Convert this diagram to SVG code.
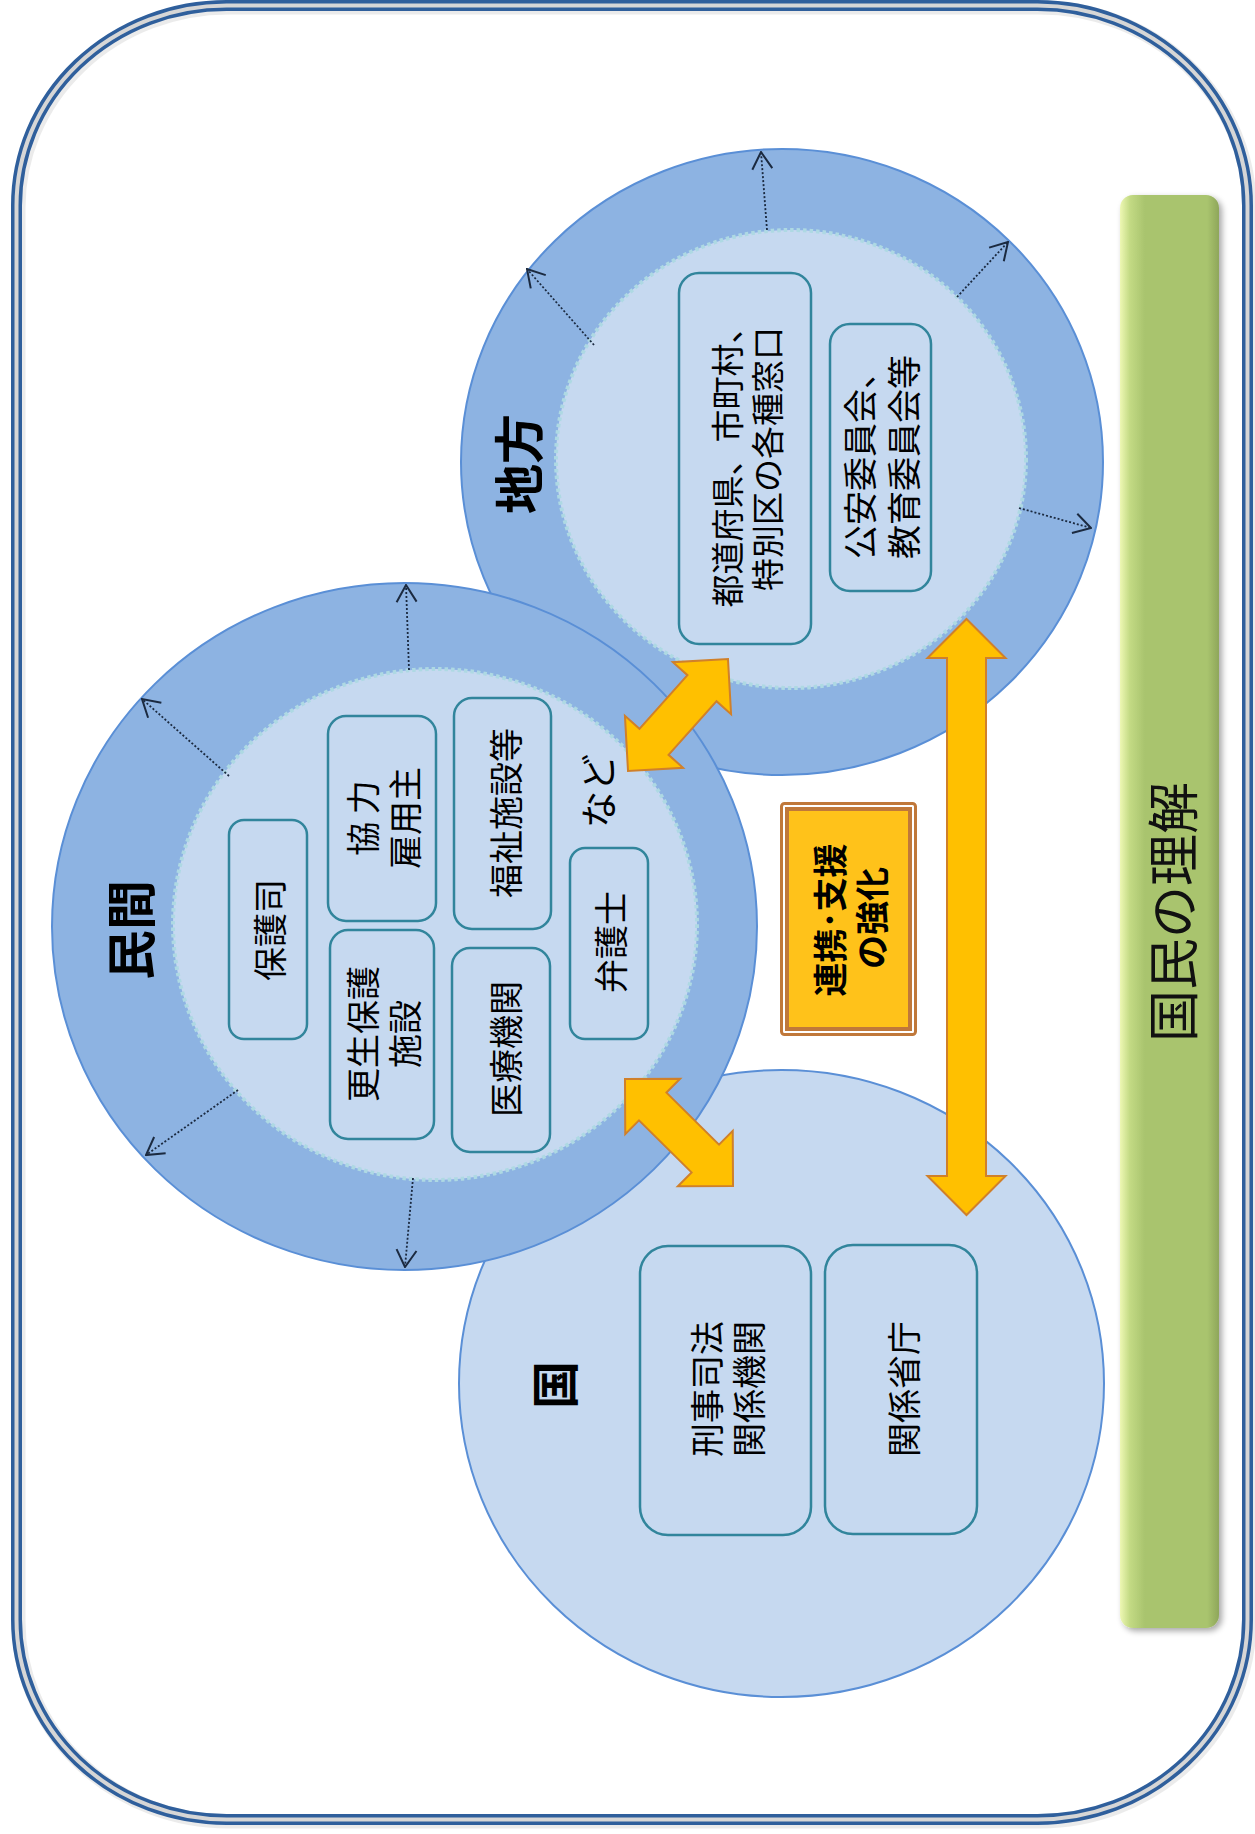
<svg xmlns="http://www.w3.org/2000/svg" width="1255" height="1834" viewBox="0 0 1255 1834">
<style>
.t{font-family:"Noto Sans CJK JP","Noto Sans CJK SC",sans-serif;font-size:34px;text-anchor:middle;dominant-baseline:central;fill:#000}
.b{font-weight:bold;font-size:50px}
.ring{fill:#8db3e2;stroke:#5a8fd6;stroke-width:2}
.inner{fill:#c6d9f0;stroke:#aed9e3;stroke-width:4;stroke-dasharray:3.5 3}
.kuni{fill:#c6d9f0;stroke:#5a8fd6;stroke-width:2}
.box{fill:#c6d9f0;stroke:#31859c;stroke-width:2.5}
.dot{fill:none;stroke:#1b2a40;stroke-width:1.8;stroke-dasharray:2 2;marker-end:url(#open)}
.ya{fill:#ffc000;stroke:#d0802a;stroke-width:2}
</style>
<defs>
<marker id="open" viewBox="0 0 20 24" refX="19" refY="12" markerWidth="20" markerHeight="24" markerUnits="userSpaceOnUse" orient="auto">
<path d="M2,2 L19,12 L2,22" fill="none" stroke="#1b2a40" stroke-width="2"/>
</marker>
<linearGradient id="green" x1="0" y1="0" x2="1" y2="0">
<stop offset="0" stop-color="#eef8b4"/>
<stop offset="0.1" stop-color="#c3da84"/>
<stop offset="0.25" stop-color="#a9c46e"/>
<stop offset="0.88" stop-color="#a9c46e"/>
<stop offset="1" stop-color="#8ea65a"/>
</linearGradient>
<filter id="sh" x="-10%" y="-10%" width="120%" height="120%">
<feGaussianBlur in="SourceAlpha" stdDeviation="3"/>
<feOffset dx="3" dy="3"/>
<feComponentTransfer><feFuncA type="linear" slope="0.35"/></feComponentTransfer>
<feMerge><feMergeNode/><feMergeNode in="SourceGraphic"/></feMerge>
</filter>
</defs>
<rect width="1255" height="1834" fill="#ffffff"/>
<g id="frame">
<rect x="16.5" y="5.5" width="1231" height="1814" rx="210" ry="200" fill="none" stroke="#d8d8d8" stroke-width="14" opacity="0.5" transform="translate(2,2)"/>
<rect x="16.5" y="5.5" width="1231" height="1814" rx="210" ry="200" fill="none" stroke="#2f5f9c" stroke-width="11"/>
<rect x="16.5" y="5.5" width="1231" height="1814" rx="210" ry="200" fill="none" stroke="#d6d6d6" stroke-width="4"/>
</g>
<g id="kokumin">
<rect x="1120" y="195" width="99" height="1433" rx="13" fill="url(#green)" filter="url(#sh)"/>
<text class="t" x="1170" y="912" transform="rotate(-90 1170 912)" style="font-size:52px;fill:#111">国民の理解</text>
</g>
<g id="chiho">
<ellipse class="ring" cx="782" cy="462" rx="321" ry="313"/>
<ellipse class="inner" cx="791" cy="459" rx="235" ry="229"/>
<text class="t b" x="516" y="464" transform="rotate(-90 516 464)">地方</text>
<rect class="box" x="679" y="273" width="132" height="371" rx="20"/>
<text class="t" x="726" y="459" transform="rotate(-90 726 459)" style="font-size:33px">都道府県、市町村、</text>
<text class="t" x="766" y="459" transform="rotate(-90 766 459)" style="font-size:33px">特別区の各種窓口</text>
<rect class="box" x="830" y="324" width="101" height="267" rx="20"/>
<text class="t" x="858" y="457" transform="rotate(-90 858 457)">公安委員会、</text>
<text class="t" x="902" y="457" transform="rotate(-90 902 457)">教育委員会等</text>
</g>
<g id="kuni">
<ellipse class="kuni" cx="781.5" cy="1383.5" rx="322.5" ry="313.5"/>
<text class="t b" x="552" y="1385" transform="rotate(-90 552 1385)" style="font-size:48px">国</text>
<rect class="box" x="640" y="1246" width="171" height="289" rx="28"/>
<text class="t" x="705" y="1389" transform="rotate(-90 705 1389)">刑事司法</text>
<text class="t" x="747" y="1389" transform="rotate(-90 747 1389)">関係機関</text>
<rect class="box" x="825" y="1245" width="152" height="289" rx="28"/>
<text class="t" x="902" y="1389" transform="rotate(-90 902 1389)">関係省庁</text>
</g>
<g id="minkan">
<ellipse class="ring" cx="404.5" cy="926.5" rx="352.5" ry="343.5"/>
<ellipse class="inner" cx="435" cy="924.5" rx="262" ry="255.5"/>
<text class="t b" x="128" y="930" transform="rotate(-90 128 930)">民間</text>
<rect class="box" x="229" y="820" width="78" height="219" rx="15"/>
<text class="t" x="268" y="930" transform="rotate(-90 268 930)">保護司</text>
<rect class="box" x="328" y="716" width="108" height="205" rx="18"/>
<text class="t" x="361" y="818" transform="rotate(-90 361 818)">協 力</text>
<text class="t" x="403" y="818" transform="rotate(-90 403 818)">雇用主</text>
<rect class="box" x="330" y="930" width="104" height="209" rx="18"/>
<text class="t" x="361" y="1034" transform="rotate(-90 361 1034)">更生保護</text>
<text class="t" x="403" y="1034" transform="rotate(-90 403 1034)">施設</text>
<rect class="box" x="454" y="698" width="97" height="231" rx="18"/>
<text class="t" x="504" y="813" transform="rotate(-90 504 813)">福祉施設等</text>
<rect class="box" x="452" y="948" width="98" height="204" rx="18"/>
<text class="t" x="504" y="1049" transform="rotate(-90 504 1049)">医療機関</text>
<rect class="box" x="570" y="848" width="78" height="191" rx="15"/>
<text class="t" x="609" y="942" transform="rotate(-90 609 942)">弁護士</text>
<text class="t" x="597" y="791" transform="rotate(-90 597 791)" style="font-size:37px">など</text>
</g>
<g id="renkei">
<rect x="781.5" y="803.5" width="134" height="231" rx="3" fill="#ffffff" stroke="#c0783a" stroke-width="3"/>
<rect x="787" y="809" width="123" height="220" fill="#ffc21a" stroke="#c0783a" stroke-width="4"/>
<text class="t" x="828" y="920" transform="rotate(-90 828 920)" style="font-weight:bold">連携･支援</text>
<text class="t" x="870" y="918" transform="rotate(-90 870 918)" style="font-weight:bold">の強化</text>
</g>
<g id="connectors">
<path class="dot" d="M767,230 L761,152"/>
<path class="dot" d="M957,297 L1008,242"/>
<path class="dot" d="M1019,508 L1091,528"/>
<path class="dot" d="M594,345 L527,269"/>
<path class="dot" d="M409,670 L406,585"/>
<path class="dot" d="M229,776 L142,699"/>
<path class="dot" d="M238,1090 L146,1155"/>
<path class="dot" d="M413,1178 L405,1267"/>
<polygon class="ya" points="-75,0 -36,-39 -36,-19.5 36,-19.5 36,-39 75,0 36,39 36,19.5 -36,19.5 -36,39" transform="translate(678,715) rotate(-48.2)"/>
<polygon class="ya" points="-76,0 -37,-39 -37,-19.5 37,-19.5 37,-39 76,0 37,39 37,19.5 -37,19.5 -37,39" transform="translate(679,1132.5) rotate(44.7)"/>
<polygon class="ya" points="966.5,619 1005.5,658 986,658 986,1176 1005.5,1176 966.5,1215 927.5,1176 947,1176 947,658 927.5,658"/>
</g>
</svg>
